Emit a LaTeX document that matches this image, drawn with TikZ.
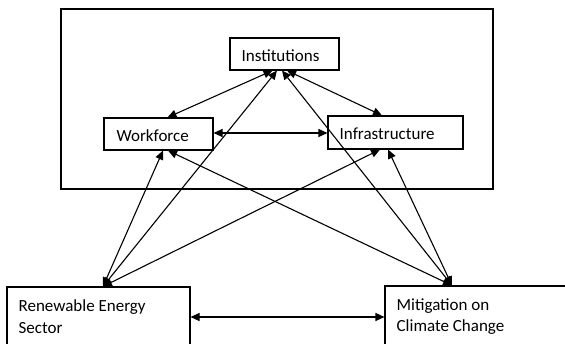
\documentclass[tikz,border=0pt]{standalone}
\usepackage{fontspec}
\setmainfont{Carlito}
\usetikzlibrary{arrows.meta,calc}
\begin{document}
\begin{tikzpicture}[x=1pt,y=-1pt,
  box/.style={draw,line width=1.1pt,inner sep=0pt},
  txt/.style={inner sep=0pt,anchor=base west,font=\fontsize{17}{22}\selectfont},
  arr/.style={line width=1.1pt,{Triangle[length=9pt,width=8pt]}-{Triangle[length=9pt,width=8pt]}}]
\useasboundingbox (0,0) rectangle (565,343);
\node[box,minimum width=432pt,minimum height=180pt] (outer) at (277,99) {};
\node[box,minimum width=109pt,minimum height=32pt] (inst) at (284.5,54) {};
\node[box,minimum width=109pt,minimum height=32pt] (work) at (158.5,134) {};
\node[box,minimum width=135pt,minimum height=33pt] (infra) at (395.5,132.5) {};
\node[box,minimum width=183pt,minimum height=70pt] (ren) at (98.5,322) {};
\node[box,minimum width=195pt,minimum height=70pt] (mit) at (482.5,321) {};
\node[txt] (tinst) at ($(inst.north west)+(12,24)$) {Institutions};
\node[txt] (twork) at ($(work.north west)+(13,24)$) {Workforce};
\node[txt] (tinfra) at ($(infra.north west)+(12,24)$) {Infrastructure};
\node[txt] (tren1) at ($(ren.north west)+(12,25)$) {Renewable Energy};
\node[txt] (tren2) at ($(ren.north west)+(12,47)$) {Sector};
\node[txt] (tmit1) at ($(mit.north west)+(12,25)$) {Mitigation on};
\node[txt] (tmit2) at ($(mit.north west)+(12,46)$) {Climate Change};
\coordinate (wi) at ($(work.east)+(0,-1)$);
\coordinate (rm) at ($(ren.east)+(0,-5)$);
\draw[arr] ($(inst.south)+(-12,0)$) -- ($(work.north)+(9,0)$);
\draw[arr] ($(inst.south)+(2.5,0)$) -- ($(infra.north)+(-13.5,0)$);
\draw[arr] ($(ren.north)+(4.5,0)$) -- ($(inst.south)+(-7.5,0)$);
\draw[arr] ($(mit.north)+(-30.5,0)$) -- ($(inst.south)+(-2.5,0)$);
\draw[arr] ($(ren.north)+(4.5,0)$) -- ($(work.south)+(4.5,0)$);
\draw[arr] ($(mit.north)+(-30.5,0)$) -- ($(work.south)+(9.5,0)$);
\draw[arr] ($(ren.north)+(4.5,0)$) -- ($(infra.south)+(-15.5,0)$);
\draw[arr] ($(mit.north)+(-30.5,0)$) -- ($(infra.south)+(-7.5,0)$);
\draw[arr] (wi) -- (wi -| infra.west);
\draw[arr] (rm) -- (rm -| mit.west);
\end{tikzpicture}
\end{document}
